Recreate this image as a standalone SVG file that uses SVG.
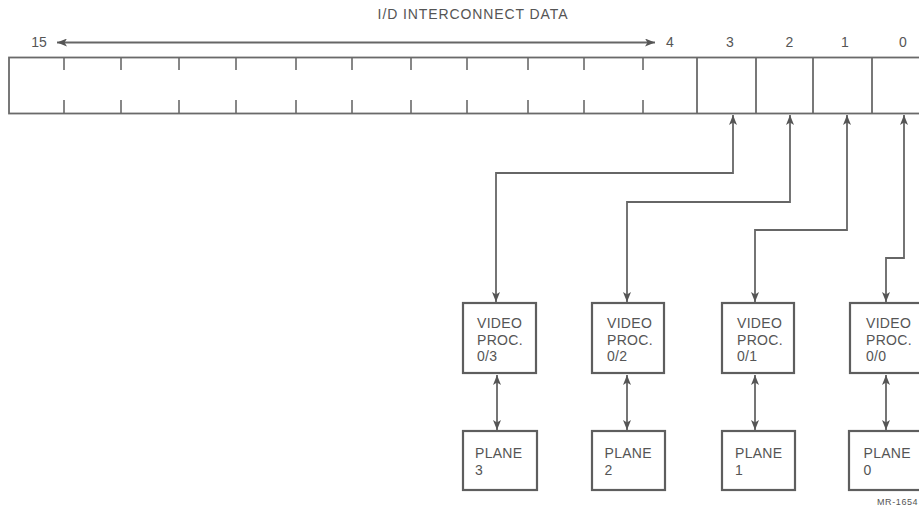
<svg xmlns="http://www.w3.org/2000/svg" width="919" height="506" viewBox="0 0 919 506">
<style>
.ln{fill:none;stroke:#6a6a6a;stroke-width:1.8}
.bx{fill:#fff;stroke:#5e5e5e;stroke-width:2.2}
.tk{stroke:#6a6a6a;stroke-width:1.6}
.t{font-family:"Liberation Sans",Arial,sans-serif;font-size:14px;fill:#555;letter-spacing:0.3px}
.n{font-family:"Liberation Sans",Arial,sans-serif;font-size:14px;fill:#555;text-anchor:middle}
.c{stroke:#666;stroke-width:1.8;fill:none;marker-end:url(#ah)}
.d{stroke:#666;stroke-width:1.8;fill:none;marker-start:url(#ah);marker-end:url(#ah)}
</style>
<defs>
<marker id="ah" viewBox="0 0 10 8" refX="10" refY="4" markerWidth="10" markerHeight="8" markerUnits="userSpaceOnUse" orient="auto-start-reverse">
<path d="M0,0 L10,4 L0,8 L2.5,4 Z" fill="#555"/>
</marker>
</defs>
<rect width="919" height="506" fill="#fff"/>
<g id="title">
<text x="473" y="19" class="n" style="letter-spacing:0.9px">I/D INTERCONNECT DATA</text>
</g>
<g id="register">
<rect x="9" y="57.5" width="930" height="56" class="ln"/>
<g class="tk">
<path d="M64,58V70M121,58V70M179,58V70M236,58V70M296,58V70M352,58V70M411,58V70M467,58V70M528,58V70M584,58V70M643,58V70"/>
<path d="M64,100V113M121,100V113M179,100V113M236,100V113M296,100V113M352,100V113M411,100V113M467,100V113M528,100V113M584,100V113M643,100V113"/>
</g>
<path d="M697,58V113M756,58V113M813,58V113M872,58V113" class="ln"/>
<text x="39" y="47" class="n">15</text>
<text x="670" y="47" class="n">4</text>
<text x="730" y="47" class="n">3</text>
<text x="789.5" y="47" class="n">2</text>
<text x="845" y="47" class="n">1</text>
<text x="903" y="47" class="n">0</text>
</g>
<g id="connectors">
<path d="M57,42.5H655" class="d"/>
<path d="M496,302V173H733V115" class="d"/>
<path d="M627,302V202H790V115" class="d"/>
<path d="M755,302V230H847V115" class="d"/>
<path d="M886,302V258H904V115" class="d"/>
<path d="M497,375V430" class="d"/>
<path d="M627,375V430" class="d"/>
<path d="M755,375V430" class="d"/>
<path d="M886,375V430" class="d"/>
</g>
<g id="vp3">
<rect x="463" y="303" width="73" height="70" class="bx"/>
<text class="t"><tspan x="477" y="328">VIDEO</tspan><tspan x="477" y="344.5">PROC.</tspan><tspan x="477" y="361">0/3</tspan></text>
</g>
<g id="vp2">
<rect x="592" y="303" width="72" height="70" class="bx"/>
<text class="t"><tspan x="607" y="328">VIDEO</tspan><tspan x="607" y="344.5">PROC.</tspan><tspan x="607" y="361">0/2</tspan></text>
</g>
<g id="vp1">
<rect x="722" y="303" width="72" height="70" class="bx"/>
<text class="t"><tspan x="737" y="328">VIDEO</tspan><tspan x="737" y="344.5">PROC.</tspan><tspan x="737" y="361">0/1</tspan></text>
</g>
<g id="vp0">
<rect x="850" y="303" width="73" height="70" class="bx"/>
<text class="t"><tspan x="866" y="328">VIDEO</tspan><tspan x="866" y="344.5">PROC.</tspan><tspan x="866" y="361">0/0</tspan></text>
</g>
<g id="plane3">
<rect x="463" y="431" width="74" height="59" class="bx"/>
<text class="t"><tspan x="475" y="458">PLANE</tspan><tspan x="475" y="474.5">3</tspan></text>
</g>
<g id="plane2">
<rect x="592" y="431" width="73" height="59" class="bx"/>
<text class="t"><tspan x="604.5" y="458">PLANE</tspan><tspan x="604.5" y="474.5">2</tspan></text>
</g>
<g id="plane1">
<rect x="722" y="431" width="73" height="59" class="bx"/>
<text class="t"><tspan x="735" y="458">PLANE</tspan><tspan x="735" y="474.5">1</tspan></text>
</g>
<g id="plane0">
<rect x="849" y="431" width="75" height="59" class="bx"/>
<text class="t"><tspan x="863.5" y="458">PLANE</tspan><tspan x="863.5" y="474.5">0</tspan></text>
</g>
<text x="877" y="505" style="font-family:'Liberation Sans',Arial,sans-serif;font-size:9px;fill:#555;letter-spacing:0.6px">MR-1654</text>
</svg>
